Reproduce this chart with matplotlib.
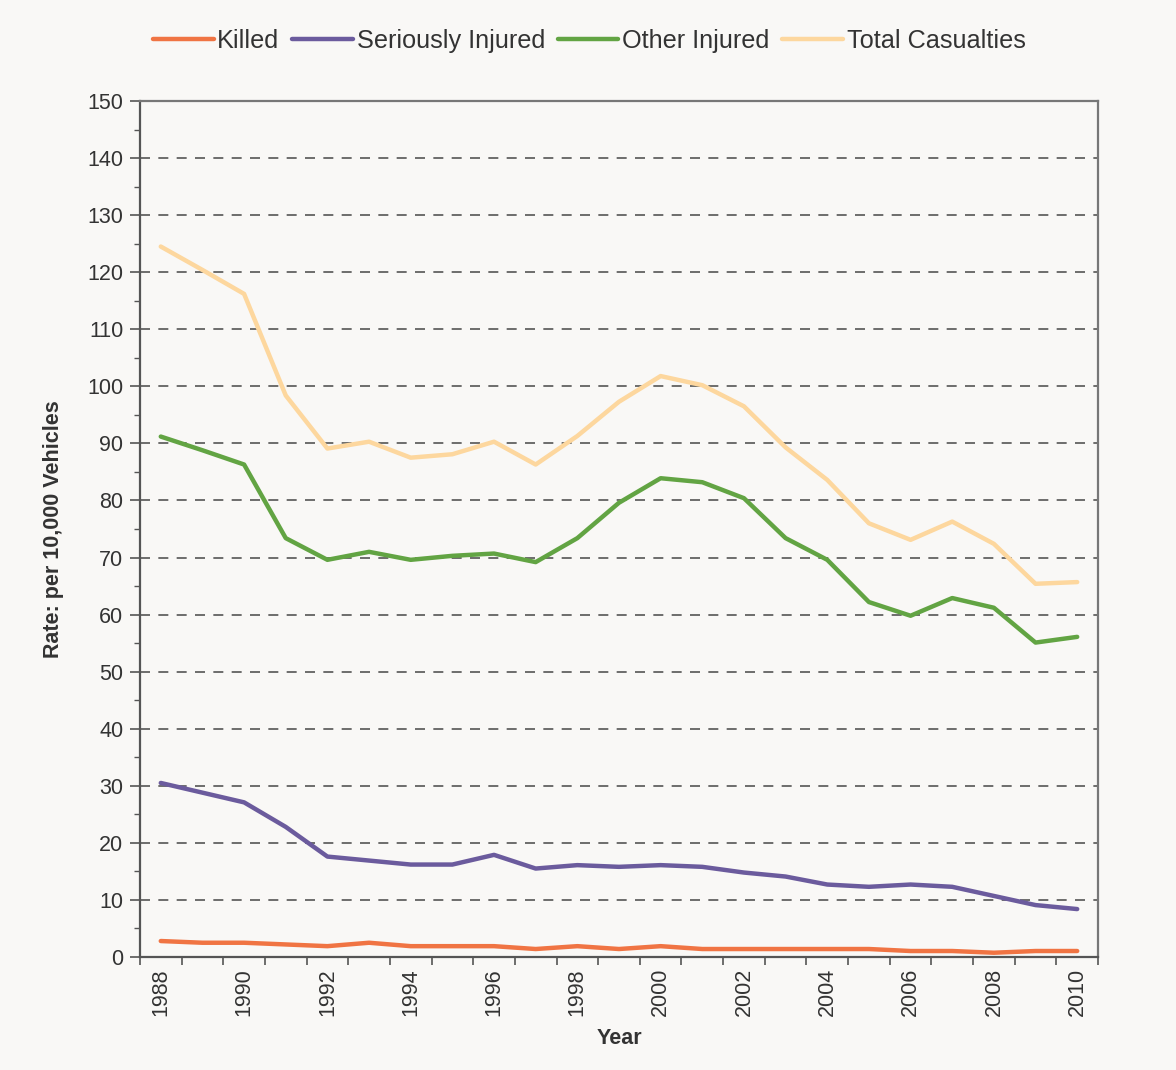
import numpy as np
import matplotlib
matplotlib.use('Agg')
import matplotlib.pyplot as plt
from matplotlib.ticker import MultipleLocator, FixedLocator

plt.rcParams['font.family'] = ['Liberation Sans', 'DejaVu Sans']

years = list(range(1988, 2011))
killed = [2.8, 2.5, 2.5, 2.2, 1.9, 2.5, 1.9, 1.9, 1.9, 1.4, 1.9, 1.4,
          1.9, 1.4, 1.4, 1.4, 1.4, 1.4, 1.05, 1.05, 0.75, 1.05, 1.05]
seriously_injured = [30.5, 28.8, 27.1, 22.8, 17.6, 16.9, 16.2, 16.2, 17.9, 15.5, 16.1, 15.8,
                     16.1, 15.8, 14.8, 14.1, 12.7, 12.3, 12.7, 12.3, 10.7, 9.1, 8.4]
other_injured = [91.2, 88.8, 86.3, 73.4, 69.6, 71.0, 69.6, 70.3, 70.7, 69.2, 73.4, 79.6,
                 83.9, 83.2, 80.4, 73.4, 69.6, 62.2, 59.8, 62.9, 61.2, 55.1, 56.1]
total_casualties = [124.5, 120.4, 116.2, 98.4, 89.1, 90.3, 87.5, 88.1, 90.3, 86.3, 91.3, 97.3,
                    101.8, 100.2, 96.5, 89.3, 83.6, 76.0, 73.1, 76.3, 72.4, 65.4, 65.7]

series_names = ['Killed', 'Seriously Injured', 'Other Injured', 'Total Casualties']
series_colors = ['#f07443', '#6b5b9d', '#62a443', '#fdd79e']

bg = '#f9f8f6'
fig = plt.figure(figsize=(11.76, 10.7), dpi=100, facecolor=bg)
ax = fig.add_axes([0.119, 0.1056, 0.8147, 0.8])
ax.set_facecolor(bg)

x = np.arange(len(years))
for vals, name, col in zip([killed, seriously_injured, other_injured, total_casualties],
                           series_names, series_colors):
    ax.plot(x, vals, color=col, linewidth=3.2, label=name, solid_capstyle='round')

ax.set_xlim(-0.5, len(years) - 0.5)
ax.set_ylim(0, 150)

# category axis: ticks between categories, labels every second year
ax.xaxis.set_major_locator(FixedLocator(np.arange(-0.5, len(years), 1)))
ax.set_xticklabels([])
ax.xaxis.set_minor_locator(FixedLocator(x[::2]))
ax.set_xticklabels([str(y) for y in years[::2]], minor=True, rotation=90, fontsize=15.5,
                   color='#333333')
ax.tick_params(axis='x', which='major', length=6, width=1.2, color='#555555')
ax.tick_params(axis='x', which='minor', length=0, pad=8)

ax.yaxis.set_major_locator(MultipleLocator(10))
ax.yaxis.set_minor_locator(MultipleLocator(5))
ax.tick_params(axis='y', which='major', length=7, width=1.2, color='#555555',
               labelsize=15.5, labelcolor='#333333', pad=5)
ax.tick_params(axis='y', which='minor', length=4, width=1.0, color='#555555')

ax.grid(axis='y', which='major', linestyle=(0, (6, 5)), color='#555555', linewidth=1.2)
ax.set_axisbelow(True)

for side in ['left', 'bottom']:
    ax.spines[side].set_color('#555555')
    ax.spines[side].set_linewidth(1.6)
for side in ['top', 'right']:
    ax.spines[side].set_color('#777777')
    ax.spines[side].set_linewidth(1.6)

ax.set_xlabel('Year', fontsize=15.5, fontweight='bold', color='#333333', labelpad=8)
ax.set_ylabel('Rate: per 10,000 Vehicles', fontsize=15.5, fontweight='bold', color='#333333',
              labelpad=17)

fig.legend(loc='center', bbox_to_anchor=(0.501, 0.9615), ncol=4, frameon=False,
           fontsize=18.2, handlelength=2.4, handletextpad=0.15, columnspacing=0.5,
           labelcolor='#333333')

fig.savefig('out.png', dpi=100, facecolor=bg)
